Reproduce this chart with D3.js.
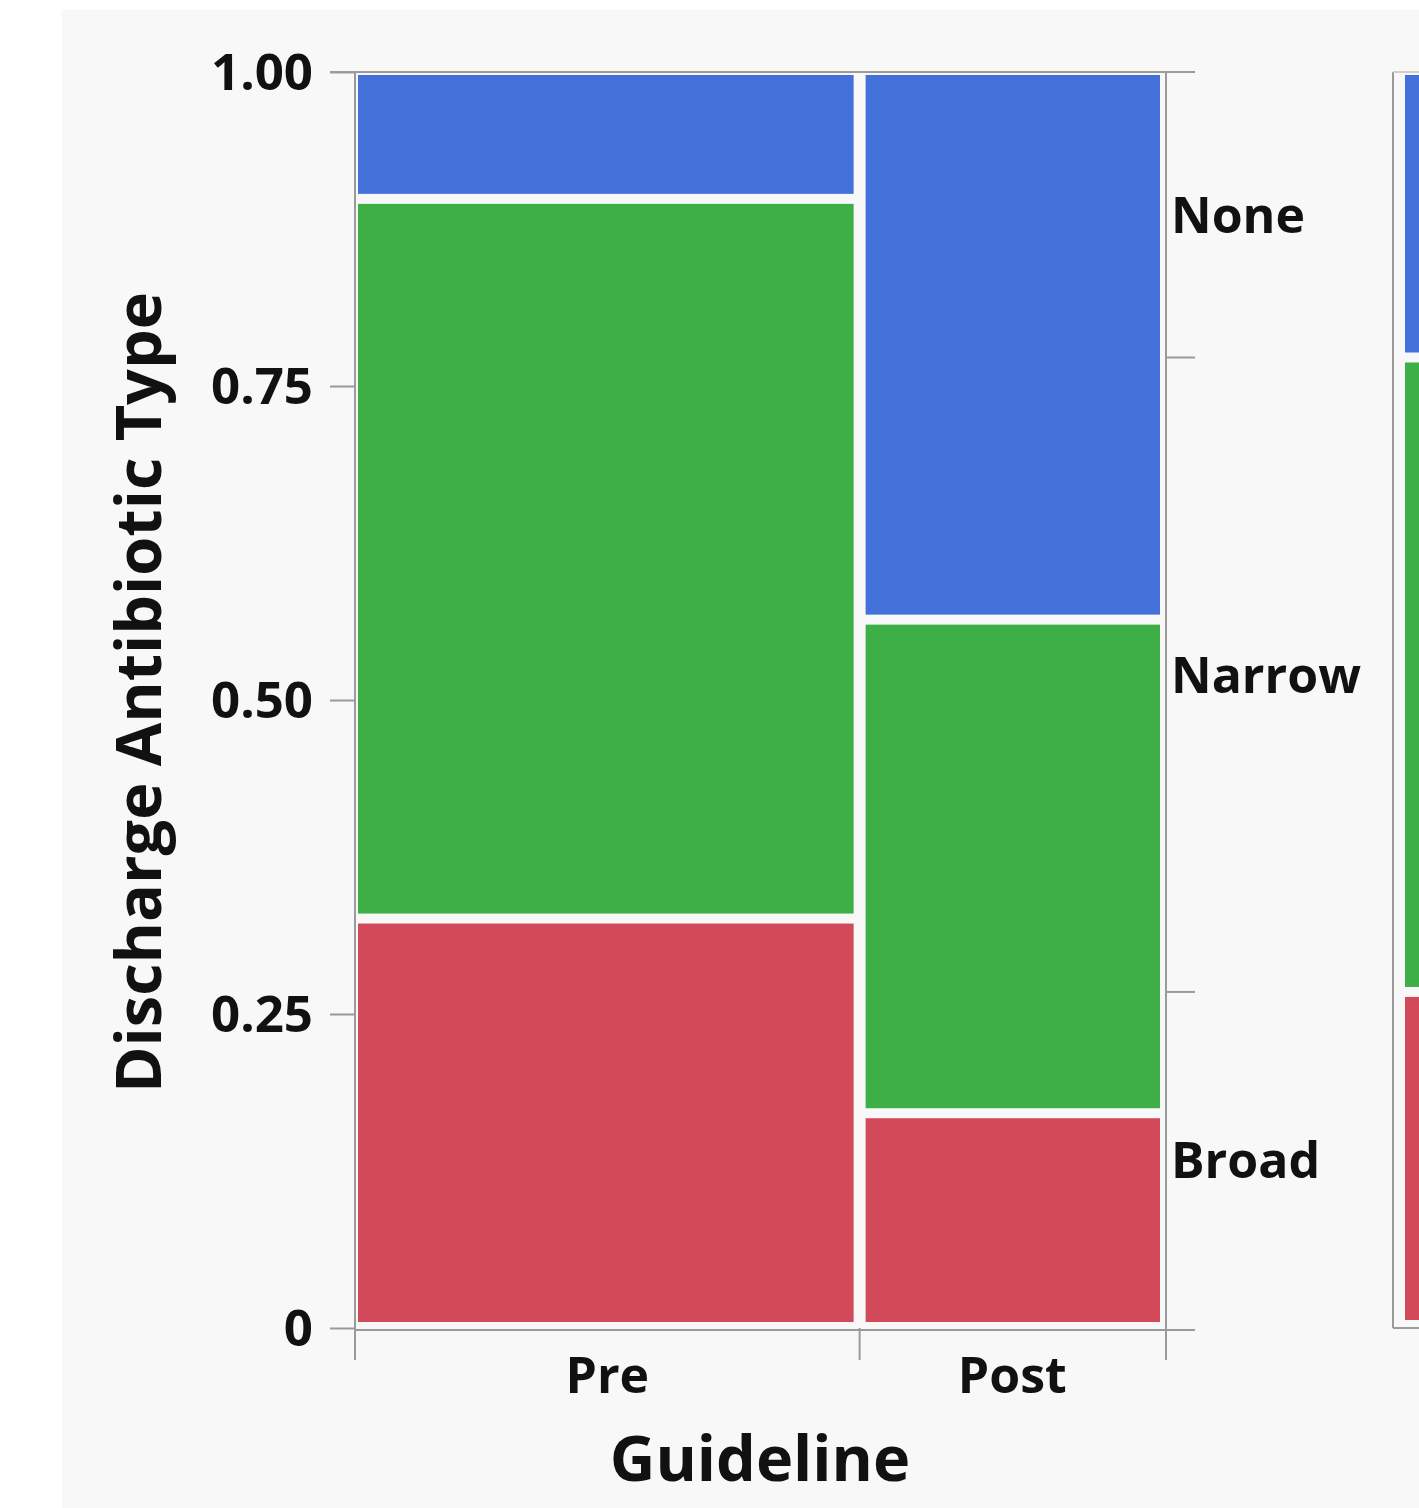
<!DOCTYPE html>
<html><head><meta charset="utf-8">
<script src="https://cdn.jsdelivr.net/npm/d3@7"></script>
<style>html,body{margin:0;padding:0;background:#fff;}svg{display:block;}</style>
</head><body>
<svg id="c" width="1419" height="1508"></svg>
<script>
const guidelines = ["Pre", "Post"];
const guidelineShare = [0.623, 0.377];
const types = ["Broad", "Narrow", "None"];
const preValues = [0.326, 0.573, 0.101];
const postValues = [0.171, 0.393, 0.436];
const yTicks = [0, 0.25, 0.5, 0.75, 1.0];
const yTickLabels = ["0", "0.25", "0.50", "0.75", "1.00"];
const colors = {Broad: "#d2495a", Narrow: "#3eae47", None: "#4470da"};

const svg = d3.select("#c");
const FONT = "'Open Sans', 'Noto Sans', sans-serif";
svg.append("rect").attr("x", 62).attr("y", 10).attr("width", 1419 - 62).attr("height", 1508 - 10).attr("fill", "#f8f8f8");

const x = d3.scaleLinear().domain([0, 1]).range([355, 1165]);
const y = d3.scaleLinear().domain([0, 1]).range([1328, 72]);

const seriesVals = [preValues, postValues];
const cells = [];
let x0 = 0;
guidelines.forEach((g, gi) => {
  let y0 = 0;
  types.forEach((t, ti) => {
    const v = seriesVals[gi][ti];
    cells.push({g, t, x0, x1: x0 + guidelineShare[gi], y0, y1: y0 + v});
    y0 += v;
  });
  x0 += guidelineShare[gi];
});
const marginal = types.map((t, ti) => d3.sum(guidelines, (g, gi) => guidelineShare[gi] * seriesVals[gi][ti]));
const margCum = [];
let acc = 0;
marginal.forEach((m, i) => { margCum.push({t: types[i], y0: acc, y1: acc + m}); acc += m; });

const gap = 5;
const gridColor = "#9a9a9a";

svg.append("line").attr("x1", 330).attr("x2", 1195).attr("y1", y(1)).attr("y2", y(1)).attr("stroke", gridColor).attr("stroke-width", 2);
svg.append("line").attr("x1", x(0)).attr("x2", x(0)).attr("y1", y(1)).attr("y2", 1360).attr("stroke", gridColor).attr("stroke-width", 2);
svg.append("line").attr("x1", x(1)+1).attr("x2", x(1)+1).attr("y1", y(1)).attr("y2", 1360).attr("stroke", gridColor).attr("stroke-width", 2);
svg.append("line").attr("x1", x(0)).attr("x2", 1195).attr("y1", y(0)+2).attr("y2", y(0)+2).attr("stroke", gridColor).attr("stroke-width", 2);

svg.append("g").selectAll("rect").data(cells).join("rect")
  .attr("x", d => x(d.x0) + (d.x0 === 0 ? 3 : gap + 1))
  .attr("width", d => x(d.x1) - x(d.x0) - (d.x0 === 0 ? 3 : gap + 1) - (d.x1 >= 0.999 ? 5 : gap + 1))
  .attr("y", d => y(d.y1) + (d.y1 >= 0.999 ? 3 : gap))
  .attr("height", d => y(d.y0) - y(d.y1) - (d.y1 >= 0.999 ? 3 : gap) - (d.y0 === 0 ? 6 : gap))
  .attr("fill", d => colors[d.t]);

const yAxis = d3.axisLeft(y).tickValues(yTicks).tickFormat((d, i) => yTickLabels[i]).tickSize(25).tickPadding(17);
const gy = svg.append("g").attr("transform", `translate(${x(0)},0)`).call(yAxis);
gy.select(".domain").remove();
gy.selectAll(".tick line").attr("stroke", gridColor).attr("stroke-width", 2);
gy.selectAll(".tick text").attr("font-family", FONT).attr("font-weight", 700).attr("font-size", 51).attr("fill", "#111").attr("dy", "0.34em");

const centers = [];
let c0 = 0;
guidelines.forEach((g, gi) => { centers.push(c0 + guidelineShare[gi] / 2); c0 += guidelineShare[gi]; });
const bounds = [0, guidelineShare[0], 1];
svg.append("g").selectAll("line").data(bounds).join("line")
  .attr("x1", d => x(d) + (d >= 0.999 ? 1 : 0)).attr("x2", d => x(d) + (d >= 0.999 ? 1 : 0))
  .attr("y1", y(0)).attr("y2", 1360).attr("stroke", gridColor).attr("stroke-width", 2);
svg.append("g").selectAll("text").data(guidelines).join("text")
  .attr("x", (d, i) => x(centers[i])).attr("y", 1393)
  .attr("text-anchor", "middle").attr("font-family", FONT).attr("font-weight", 700).attr("font-size", 50).attr("fill", "#111")
  .text(d => d);

const rightTicks = [0].concat(margCum.map(d => d.y1));
svg.append("g").selectAll("line").data(rightTicks).join("line")
  .attr("x1", x(1) + 1).attr("x2", 1195).attr("y1", d => y(d) + (d === 0 ? 2 : 0)).attr("y2", d => y(d) + (d === 0 ? 2 : 0))
  .attr("stroke", gridColor).attr("stroke-width", 2);
svg.append("g").selectAll("text").data(margCum).join("text")
  .attr("x", 1171).attr("y", d => y((d.y0 + d.y1) / 2))
  .attr("dy", "0.36em").attr("font-family", FONT).attr("font-weight", 700).attr("font-size", 50).attr("fill", "#111")
  .text(d => d.t);

svg.append("line").attr("x1", 1393).attr("x2", 1393).attr("y1", y(1)).attr("y2", y(0)).attr("stroke", gridColor).attr("stroke-width", 2);
svg.append("line").attr("x1", 1393).attr("x2", 1419).attr("y1", y(0)).attr("y2", y(0)).attr("stroke", gridColor).attr("stroke-width", 2);
svg.append("line").attr("x1", 1393).attr("x2", 1419).attr("y1", y(1)).attr("y2", y(1)).attr("stroke", "#cfcfcf").attr("stroke-width", 2);
svg.append("g").selectAll("rect").data(margCum).join("rect")
  .attr("x", 1405).attr("width", 40)
  .attr("y", d => y(d.y1) + (d.y1 >= 0.999 ? 3 : gap))
  .attr("height", d => y(d.y0) - y(d.y1) - (d.y1 >= 0.999 ? 3 : gap) - (d.y0 === 0 ? 8 : gap))
  .attr("fill", d => colors[d.t]);

svg.append("text").attr("x", x(0.5)).attr("y", 1481).attr("text-anchor", "middle")
  .attr("font-family", FONT).attr("font-weight", 700).attr("font-size", 63).attr("fill", "#111").text("Guideline");
svg.append("text").attr("transform", `translate(161,${(295 + 1090) / 2}) rotate(-90)`).attr("text-anchor", "middle")
  .attr("font-family", FONT).attr("font-weight", 700).attr("font-size", 63).attr("fill", "#111").text("Discharge Antibiotic Type");
</script>
</body></html>
